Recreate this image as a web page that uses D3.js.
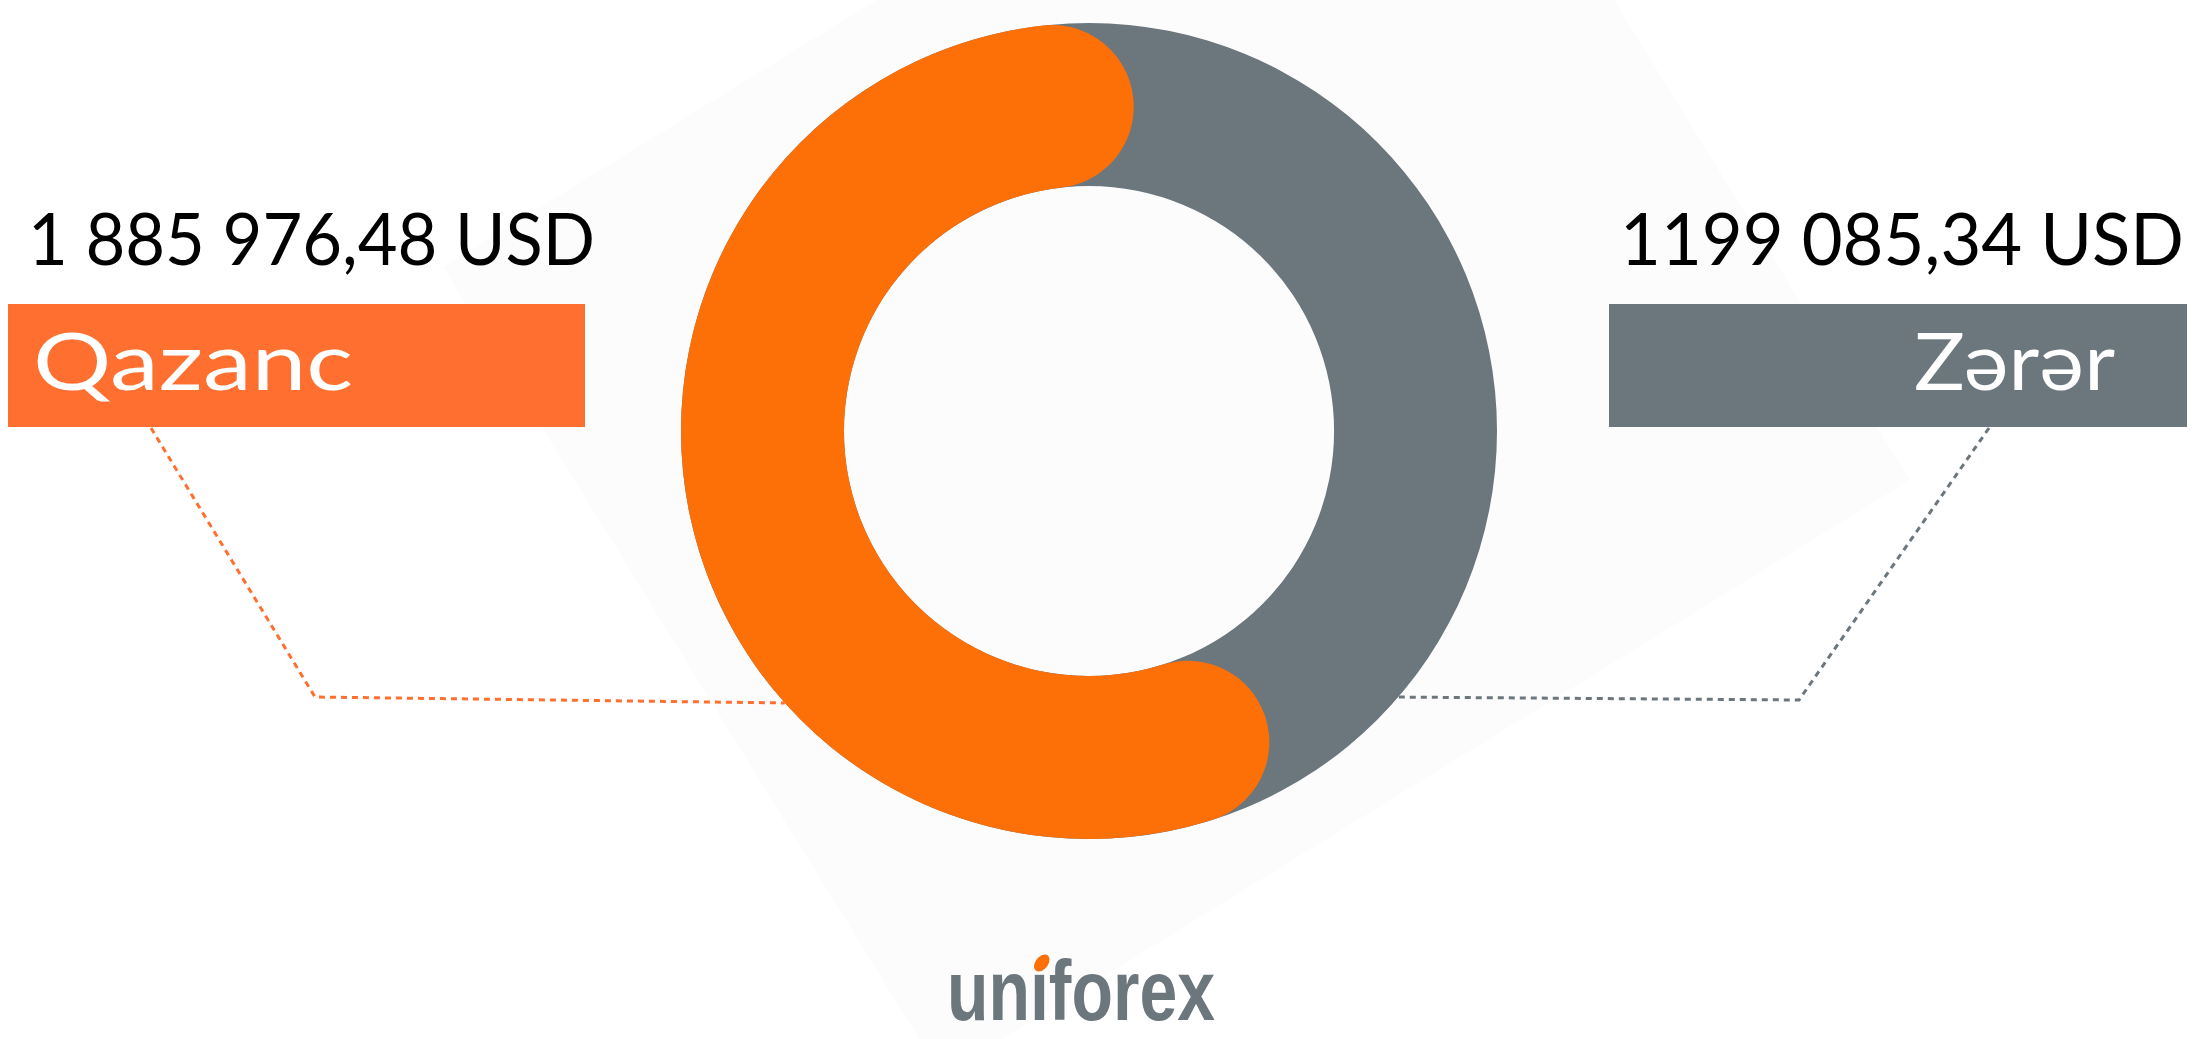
<!DOCTYPE html>
<html>
<head>
<meta charset="utf-8">
<script src="https://cdn.jsdelivr.net/npm/d3@7"></script>
<style>
  html, body { margin: 0; padding: 0; background: #fff; overflow: hidden; }
  svg { display: block; }
</style>
</head>
<body>
<div id="chart"></div>
<script>
var categories = ["Qazanc", "Zərər"];
var amounts = [1885976.48, 1199085.34];
var valueLabels = ["1 885 976,48 USD", "1199 085,34 USD"];
var colors = ["#FD6F07", "#6B767D"];
var boxColors = ["#FF6F30", "#6B767D"];

var width = 2195, height = 1039;
var cx = 1089, cy = 431;
var outerR = 408, innerR = 245;

var svg = d3.select("#chart").append("svg")
    .attr("width", width)
    .attr("height", height);

// faint tilted backdrop
var backdrop = [[443, 267], [1411, -329], [1910, 480], [942, 1076]];
svg.append("path")
    .attr("d", "M" + backdrop.join("L") + "Z")
    .attr("fill", "#fcfcfc");

var total = d3.sum(amounts);
var angle = d3.scaleLinear().domain([0, total]).range([0, 2 * Math.PI]);
var offset = 8 * Math.PI / 180; // orange arc ends a little past 12 o'clock

var g = svg.append("g").attr("transform", "translate(" + cx + "," + cy + ")");

// full grey ring behind
g.append("path")
    .attr("d", d3.arc().innerRadius(innerR).outerRadius(outerR)
        .startAngle(0).endAngle(2 * Math.PI)())
    .attr("fill", colors[1]);

// profit arc with round caps
var profitArc = d3.arc()
    .innerRadius(innerR)
    .outerRadius(outerR)
    .cornerRadius((outerR - innerR) / 2);

g.append("path")
    .attr("d", profitArc({startAngle: offset - angle(amounts[0]), endAngle: offset}))
    .attr("fill", colors[0]);

// labels
var boxes = [
  {x: 8, y: 304, w: 577, h: 123, anchor: "start", tx: 33, numX: 28, numW: 567, textW: 320},
  {x: 1609, y: 304, w: 578, h: 123, anchor: "end", tx: 2115, numX: 1620, numW: 564, textW: 201}
];

boxes.forEach(function(b, i) {
  svg.append("rect")
      .attr("x", b.x).attr("y", b.y)
      .attr("width", b.w).attr("height", b.h)
      .attr("fill", boxColors[i]);

  svg.append("text")
      .attr("x", b.numX)
      .attr("y", 265)
      .attr("textLength", b.numW)
      .attr("lengthAdjust", "spacingAndGlyphs")
      .style("font-family", "Lato, 'Noto Sans', sans-serif")
      .style("font-size", "72px")
      .attr("fill", "#000")
      .text(valueLabels[i]);

  svg.append("text")
      .attr("x", b.anchor === "start" ? b.tx : b.tx - b.textW)
      .attr("y", 390)
      .attr("textLength", b.textW)
      .attr("lengthAdjust", "spacingAndGlyphs")
      .style("font-family", "Lato, 'Noto Sans', sans-serif")
      .style("font-size", "80px")
      .attr("fill", "#fff")
      .text(categories[i]);
});

// dotted leader lines from boxes to the ring
function onRing(a) {
  return [cx + outerR * Math.sin(a), cy - outerR * Math.cos(a)];
}
var leaders = [
  [[151, 428], [315, 697], onRing(228.2 * Math.PI / 180)],
  [[1989, 428], [1799, 700], onRing(130.7 * Math.PI / 180)]
];
leaders.forEach(function(pts, i) {
  svg.append("path")
      .attr("d", d3.line()(pts))
      .attr("fill", "none")
      .attr("stroke", boxColors[i])
      .attr("stroke-width", 3)
      .attr("stroke-dasharray", "6,5");
});

// logo
var logo = svg.append("g");
var logoText = logo.append("text")
    .attr("x", 0).attr("y", 0)
    .style("font-family", "'Liberation Sans', Arial, sans-serif")
    .style("font-weight", "bold")
    .style("font-size", "86px")
    .attr("fill", "#6B767D")
    .text("unıforex");
var lw = logoText.node().getComputedTextLength();
var sx = 268 / lw;
logo.attr("transform", "translate(947,1020) scale(" + sx + ",1)");
var ext = logoText.node().getExtentOfChar(2);
var dotX = ext.x + ext.width / 2 + 3;
logo.append("ellipse")
    .attr("cx", dotX)
    .attr("cy", -57)
    .attr("rx", 11)
    .attr("ry", 7)
    .attr("transform", "rotate(-35," + dotX + ",-57)")
    .attr("fill", colors[0]);
</script>
</body>
</html>
